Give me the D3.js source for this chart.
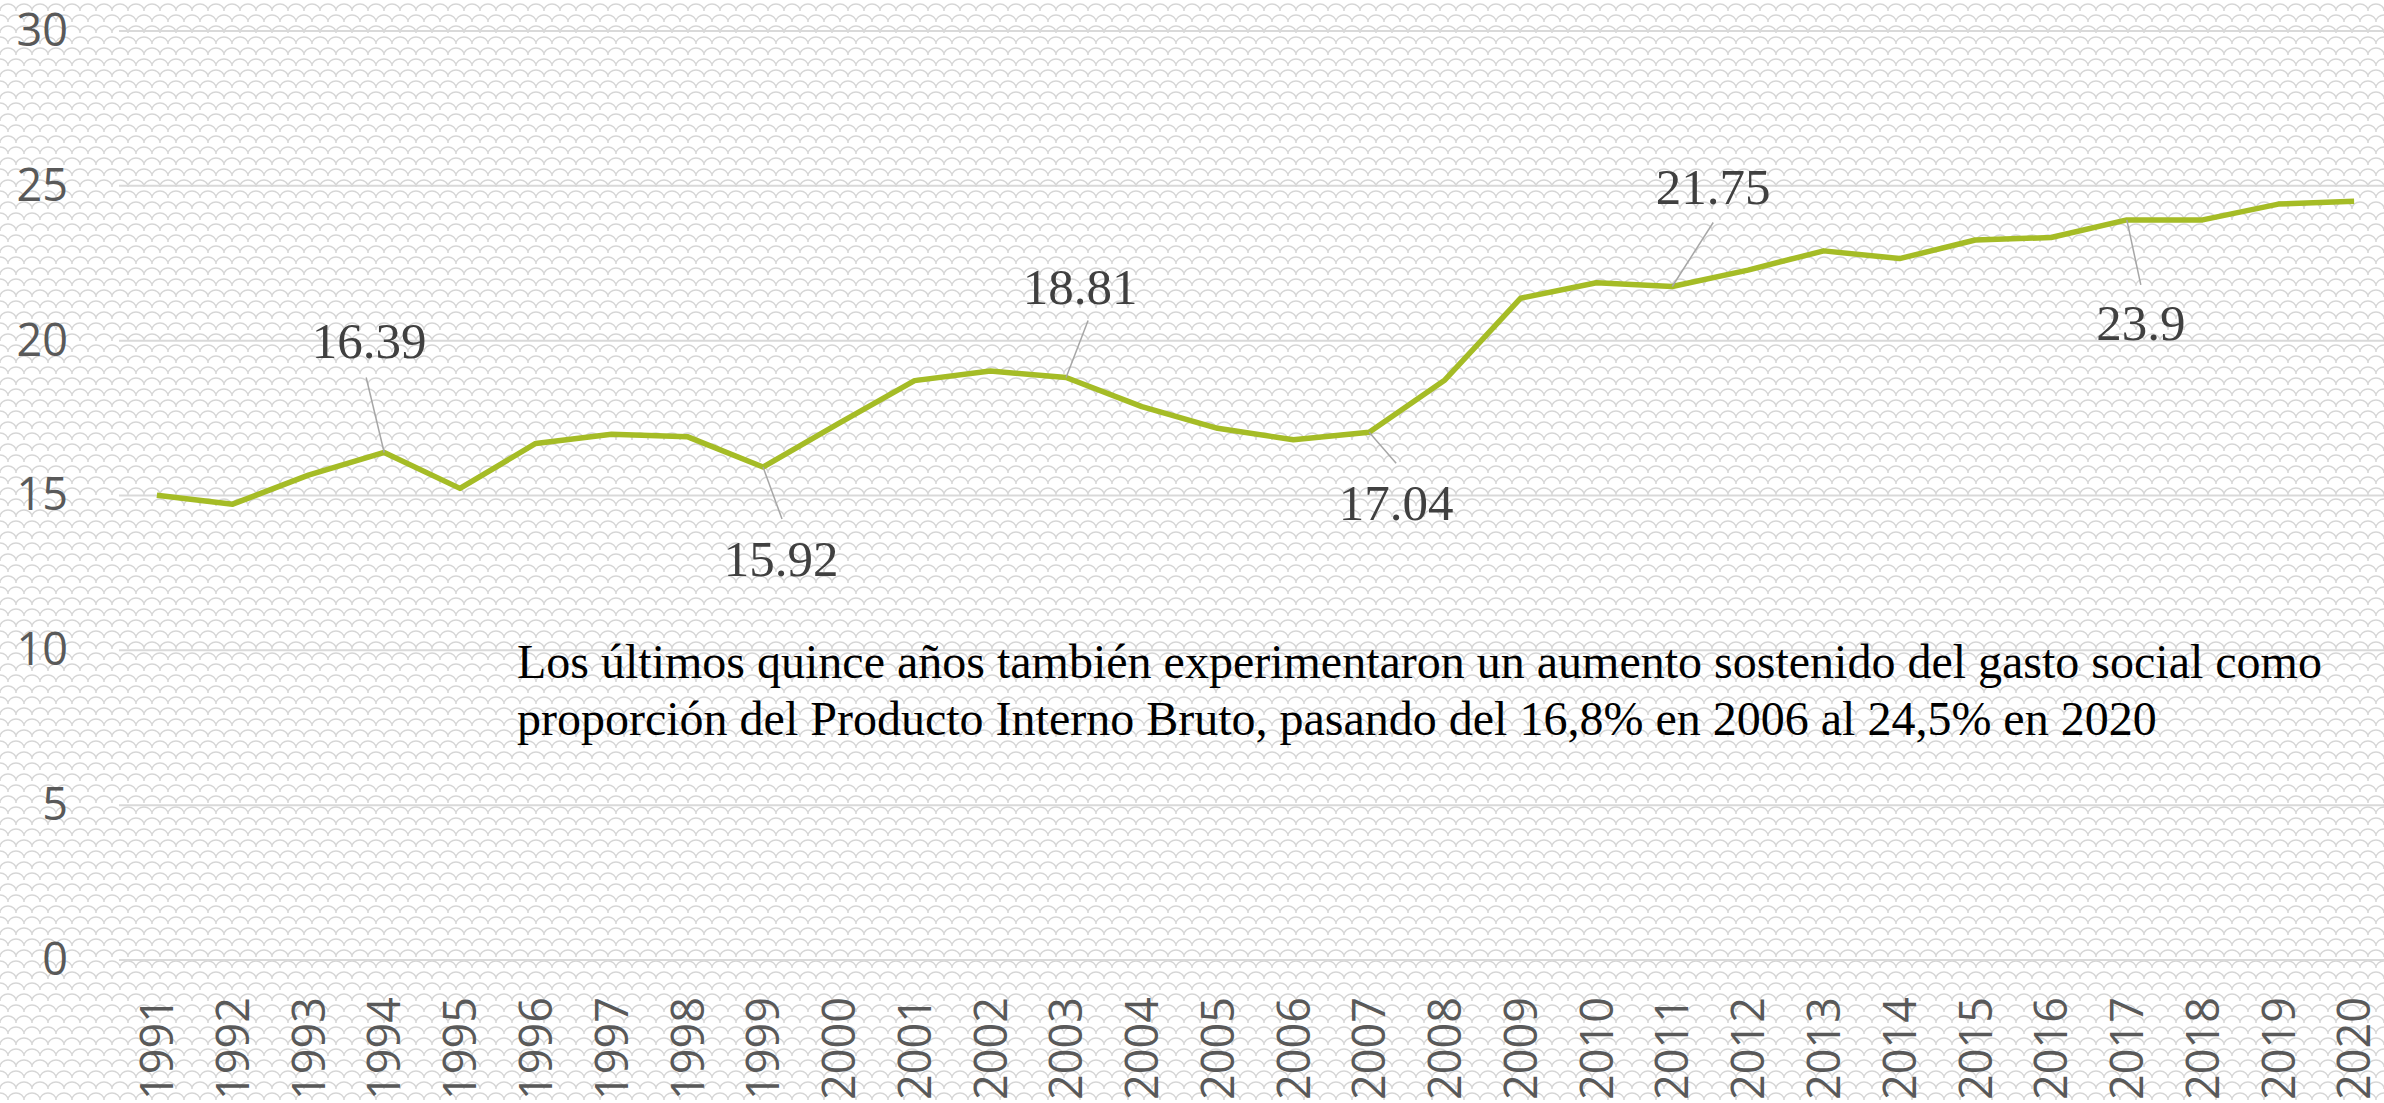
<!DOCTYPE html>
<html lang="es">
<head>
    <meta charset="UTF-8">
    <title>Gasto social como % del PIB</title>
    <script src="https://d3js.org/d3.v7.min.js"></script>
    <style>
        body {
            margin: 0;
            background-color: #ffffff;
            overflow: hidden;
        }
        #chart svg {
            display: block;
        }
    </style>
</head>
<body>
    <div id="chart"></div>

    <script>
        // Years on the category axis
        const years = [
            "1991", "1992", "1993", "1994", "1995", "1996", "1997", "1998", "1999", "2000",
            "2001", "2002", "2003", "2004", "2005", "2006", "2007", "2008", "2009", "2010",
            "2011", "2012", "2013", "2014", "2015", "2016", "2017", "2018", "2019", "2020"
        ];

        // Social spending as % of GDP
        const values = [
            15.01, 14.72, 15.66, 16.39, 15.23, 16.68, 16.98, 16.90, 15.92, 17.33,
            18.71, 19.02, 18.81, 17.87, 17.17, 16.80, 17.04, 18.73, 21.37, 21.87,
            21.75, 22.28, 22.90, 22.65, 23.25, 23.33, 23.90, 23.90, 24.41, 24.50
        ];

        const yTicks = [0, 5, 10, 15, 20, 25, 30];

        // Years that carry a data label, and the text shown
        const labelYears = ["1994", "1999", "2003", "2007", "2011", "2017"];
        const labelTexts = ["16.39", "15.92", "18.81", "17.04", "21.75", "23.9"];

        const noteLines = [
            "Los últimos quince años también experimentaron un aumento sostenido del gasto social como",
            "proporción del Producto Interno Bruto, pasando del 16,8% en 2006 al 24,5% en 2020"
        ];

        // label placement relative to its point: leader end + text baseline
        const labelPlacement = {
            "1994": { lx: -18, ly: -75, tx: -15, ty: -94 },
            "1999": { lx: 19, ly: 52, tx: 18, ty: 109 },
            "2003": { lx: 22, ly: -57, tx: 14, ty: -74 },
            "2007": { lx: 27, ly: 31, tx: 27, ty: 88 },
            "2011": { lx: 41, ly: -64, tx: 41, ty: -82 },
            "2017": { lx: 14, ly: 65, tx: 14, ty: 120 }
        };

        const width = 2384;
        const height = 1103;
        const margin = { left: 119, right: -8, top: 31, bottom: 143 };

        const svg = d3.select('#chart')
            .append('svg')
            .attr('width', width)
            .attr('height', height);

        // scale-like (shingle) background pattern
        const defs = svg.append('defs');
        const pat = defs.append('pattern')
            .attr('id', 'scales')
            .attr('patternUnits', 'userSpaceOnUse')
            .attr('width', 16)
            .attr('height', 22);
        pat.append('path')
            .attr('d', 'M0,11 A8,7 0 0,1 16,11 ' +
                       'M-8,22 A8,7 0 0,1 8,22 M8,22 A8,7 0 0,1 24,22 ' +
                       'M-8,0 A8,7 0 0,1 8,0 M8,0 A8,7 0 0,1 24,0')
            .attr('fill', 'none')
            .attr('stroke', '#d6d6d6')
            .attr('stroke-width', 1.5);

        svg.append('rect')
            .attr('width', width)
            .attr('height', height)
            .attr('fill', '#ffffff');
        svg.append('rect')
            .attr('width', width)
            .attr('height', height)
            .attr('fill', 'url(#scales)');

        const x = d3.scalePoint()
            .domain(years)
            .range([margin.left, width - margin.right])
            .padding(0.5);

        const y = d3.scaleLinear()
            .domain([0, 30])
            .range([height - margin.bottom, margin.top]);

        // gridlines
        svg.append('g')
            .selectAll('line')
            .data(yTicks)
            .enter()
            .append('line')
            .attr('x1', margin.left)
            .attr('x2', width)
            .attr('y1', d => y(d))
            .attr('y2', d => y(d))
            .attr('stroke', '#d9d9d9')
            .attr('stroke-width', 2);

        // y axis labels
        const yAxis = svg.append('g')
            .attr('transform', `translate(68,0)`)
            .call(d3.axisLeft(y).tickValues(yTicks).tickSize(0).tickPadding(0));
        yAxis.select('.domain').remove();
        yAxis.selectAll('text')
            .attr('font-family', '"Open Sans", sans-serif')
            .attr('font-size', 45)
            .attr('fill', '#595959');

        // x axis labels (rotated)
        const xAxis = svg.append('g')
            .attr('transform', `translate(0,${y(0) + 37})`)
            .call(d3.axisBottom(x).tickSize(0).tickPadding(0));
        xAxis.select('.domain').remove();
        xAxis.selectAll('text')
            .attr('font-family', '"Open Sans", sans-serif')
            .attr('font-size', 45)
            .attr('fill', '#595959')
            .attr('text-anchor', 'end')
            .attr('dy', '0.35em')
            .attr('transform', 'rotate(-90)')
            .attr('x', 0)
            .attr('y', 0);

        // the line
        const line = d3.line()
            .x((d, i) => x(years[i]))
            .y(d => y(d));

        svg.append('path')
            .datum(values)
            .attr('d', line)
            .attr('fill', 'none')
            .attr('stroke', '#a5bc26')
            .attr('stroke-width', 5.5)
            .attr('stroke-linejoin', 'round');

        // data labels with leader lines
        const labels = svg.append('g');
        labelYears.forEach((yr, k) => {
            const i = years.indexOf(yr);
            const px = x(yr);
            const py = y(values[i]);
            const p = labelPlacement[yr];
            labels.append('line')
                .attr('x1', px)
                .attr('y1', py)
                .attr('x2', px + p.lx)
                .attr('y2', py + p.ly)
                .attr('stroke', '#a6a6a6')
                .attr('stroke-width', 1.5);
            labels.append('text')
                .attr('x', px + p.tx)
                .attr('y', py + p.ty)
                .attr('text-anchor', 'middle')
                .attr('font-family', '"Liberation Serif", "Times New Roman", serif')
                .attr('font-size', 51)
                .attr('fill', '#404040')
                .text(labelTexts[k]);
        });

        // annotation text
        svg.append('g')
            .selectAll('text')
            .data(noteLines)
            .enter()
            .append('text')
            .attr('x', 517)
            .attr('y', (d, i) => 678 + i * 57)
            .attr('font-family', '"Liberation Serif", "Times New Roman", serif')
            .attr('font-size', 48)
            .attr('fill', '#000000')
            .text(d => d);
    </script>
</body>
</html>
